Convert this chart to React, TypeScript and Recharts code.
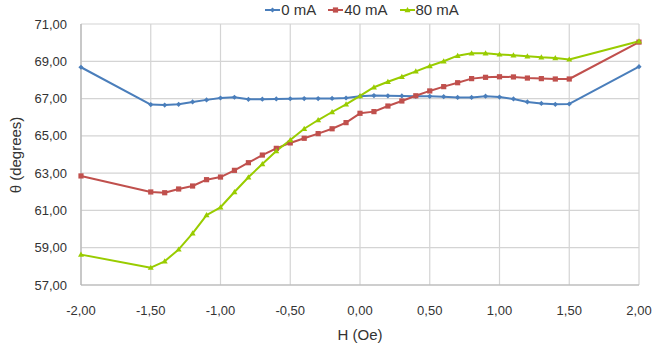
import React from "react";
import { LineChart, Line, XAxis, YAxis, CartesianGrid } from "recharts";

// Field sweep positions (Oe)
const H_OE = [
  -2, -1.5, -1.4, -1.3, -1.2, -1.1, -1.0, -0.9, -0.8, -0.7, -0.6, -0.5, -0.4,
  -0.3, -0.2, -0.1, 0, 0.1, 0.2, 0.3, 0.4, 0.5, 0.6, 0.7, 0.8, 0.9, 1.0, 1.1,
  1.2, 1.3, 1.4, 1.5, 2,
];

// Angle θ (degrees) at each field value, one list per drive current
const THETA_0MA = [
  68.68, 66.68, 66.65, 66.69, 66.82, 66.93, 67.03, 67.07, 66.96, 66.97, 66.98,
  66.99, 67.0, 67.0, 67.01, 67.03, 67.12, 67.16, 67.15, 67.14, 67.12, 67.12,
  67.1, 67.06, 67.06, 67.13, 67.08, 66.98, 66.82, 66.74, 66.69, 66.71, 68.71,
];
const THETA_40MA = [
  62.85, 61.99, 61.95, 62.15, 62.31, 62.65, 62.79, 63.15, 63.56, 63.97, 64.33,
  64.62, 64.87, 65.12, 65.38, 65.71, 66.21, 66.3, 66.6, 66.87, 67.15, 67.41,
  67.64, 67.85, 68.07, 68.14, 68.17, 68.16, 68.1, 68.07, 68.05, 68.05, 70.03,
];
const THETA_80MA = [
  58.63, 57.93, 58.27, 58.91, 59.77, 60.75, 61.17, 61.99, 62.78, 63.49, 64.19,
  64.78, 65.38, 65.85, 66.28, 66.69, 67.14, 67.61, 67.9, 68.17, 68.46, 68.75,
  69.0, 69.3, 69.43, 69.43, 69.37, 69.32, 69.27, 69.21, 69.18, 69.1, 70.07,
];

const X_TICKS = [-2, -1.5, -1, -0.5, 0, 0.5, 1, 1.5, 2];
const Y_TICKS = [57, 59, 61, 63, 65, 67, 69, 71];

const data = H_OE.map((h, i) => ({
  h,
  ma0: THETA_0MA[i],
  ma40: THETA_40MA[i],
  ma80: THETA_80MA[i],
}));

const BLUE = "#4a7ebb";
const RED = "#c0504d";
const GREEN = "#99cc00";
const FONT = "'Liberation Sans', Arial, sans-serif";
const TEXT = "#333333";

const fmt = (v: number) => v.toFixed(2).replace(".", ",");

type Shape = "diamond" | "square" | "triangle";

const Marker = ({ cx, cy, color, shape }: { cx: number; cy: number; color: string; shape: Shape }) => {
  if (cx == null || cy == null) return null;
  if (shape === "square")
    return <rect x={cx - 2.6} y={cy - 2.6} width={5.2} height={5.2} fill={color} />;
  if (shape === "triangle")
    return (
      <polygon
        points={`${cx},${cy - 3} ${cx + 3},${cy + 2.2} ${cx - 3},${cy + 2.2}`}
        fill={color}
      />
    );
  return (
    <polygon
      points={`${cx},${cy - 2.6} ${cx + 2.6},${cy} ${cx},${cy + 2.6} ${cx - 2.6},${cy}`}
      fill={color}
    />
  );
};

const SERIES: { key: string; name: string; color: string; shape: Shape }[] = [
  { key: "ma0", name: "0 mA", color: BLUE, shape: "diamond" },
  { key: "ma40", name: "40 mA", color: RED, shape: "square" },
  { key: "ma80", name: "80 mA", color: GREEN, shape: "triangle" },
];

const LegendRow = () => (
  <div
    style={{
      position: "absolute",
      top: 1,
      left: 0,
      width: 654,
      display: "flex",
      justifyContent: "center",
      paddingLeft: 70,
      boxSizing: "border-box",
      fontFamily: FONT,
      fontSize: 15,
      color: TEXT,
      gap: 12,
    }}
  >
    {SERIES.map((s) => (
      <div key={s.key} style={{ display: "flex", alignItems: "center" }}>
        <svg width={15} height={10} style={{ marginRight: 1 }}>
          <line x1={0} y1={5} x2={15} y2={5} stroke={s.color} strokeWidth={2} />
          <Marker cx={7.5} cy={5} color={s.color} shape={s.shape} />
        </svg>
        <span>{s.name}</span>
      </div>
    ))}
  </div>
);

export default function App() {
  return (
    <div
      style={{
        position: "absolute",
        left: 0,
        top: 0,
        width: 654,
        height: 351,
        background: "#fff",
      }}
    >
      <LineChart
        width={654}
        height={351}
        data={data}
        margin={{ top: 24, right: 15, bottom: 0, left: 0 }}
      >
        <CartesianGrid stroke="#d4d4d4" strokeWidth={1.2} />
        <XAxis
          dataKey="h"
          type="number"
          domain={[-2, 2]}
          ticks={X_TICKS}
          tickFormatter={fmt}
          height={66}
          tickLine={false}
          tickSize={0}
          tickMargin={21}
          axisLine={{ stroke: "#b4b4b4", strokeWidth: 1.2 }}
          tick={{ fill: TEXT, fontSize: 13, fontFamily: FONT }}
        />
        <YAxis
          type="number"
          domain={[57, 71]}
          ticks={Y_TICKS}
          tickFormatter={fmt}
          width={81}
          tickLine={false}
          tickSize={0}
          tickMargin={14}
          axisLine={{ stroke: "#b4b4b4", strokeWidth: 1.2 }}
          tick={{ fill: TEXT, fontSize: 13, fontFamily: FONT }}
        />
        {SERIES.map((s) => (
          <Line
            key={s.key}
            dataKey={s.key}
            name={s.name}
            type="linear"
            stroke={s.color}
            strokeWidth={2}
            strokeLinejoin="round"
            isAnimationActive={false}
            dot={(p: any) => (
              <Marker key={`${s.key}-${p.index}`} cx={p.cx} cy={p.cy} color={s.color} shape={s.shape} />
            )}
            activeDot={false}
          />
        ))}
      </LineChart>
      <LegendRow />
      <div
        style={{
          position: "absolute",
          left: 15,
          top: 155,
          transform: "translate(-50%, -50%) rotate(-90deg)",
          whiteSpace: "nowrap",
          fontFamily: FONT,
          fontSize: 15,
          color: TEXT,
        }}
      >
        θ (degrees)
      </div>
      <div
        style={{
          position: "absolute",
          left: 360,
          top: 334,
          transform: "translate(-50%, -50%)",
          whiteSpace: "nowrap",
          fontFamily: FONT,
          fontSize: 15,
          color: TEXT,
        }}
      >
        H (Oe)
      </div>
    </div>
  );
}
